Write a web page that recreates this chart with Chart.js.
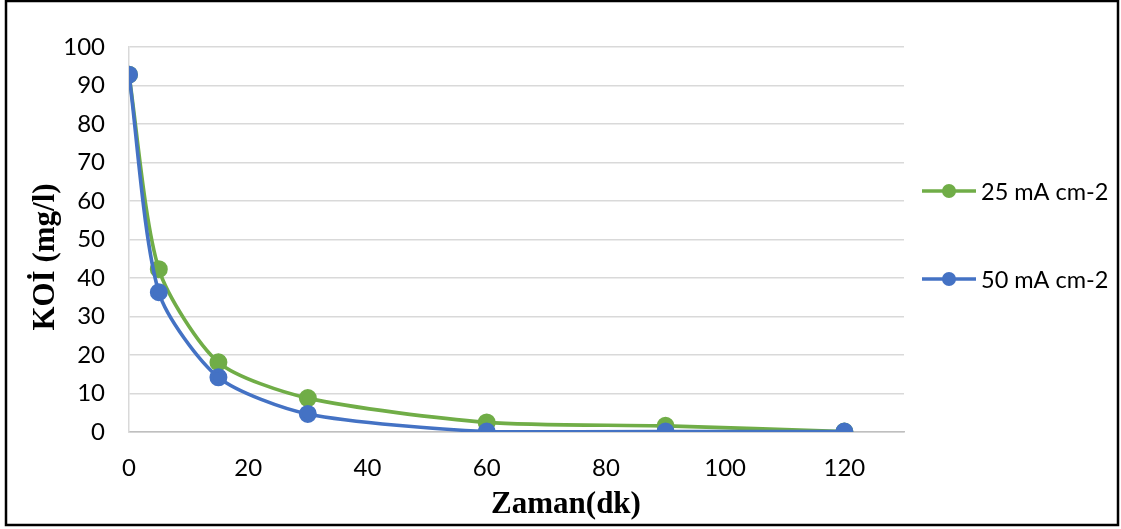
<!DOCTYPE html>
<html>
<head>
<meta charset="utf-8">
<script src="https://cdn.jsdelivr.net/npm/chart.js@4"></script>
<style>
  html, body { margin: 0; padding: 0; background: #fff; }
  #wrap { width: 1121px; height: 529px; }
</style>
</head>
<body>
<div id="wrap"><canvas id="myChart" width="1121" height="529"></canvas></div>
<script>
// zaman (dk) ve KOİ degerleri
var zaman = [0, 5, 15, 30, 60, 90, 120];
var koi25 = [92.8, 42.3, 18.1, 8.8, 2.5, 1.6, 0.1];
var koi50 = [92.8, 36.3, 14.2, 4.7, 0.1, 0.1, 0.1];
var seriesNames = ['25 mA cm-2', '50 mA cm-2'];
var xTicks = [0, 20, 40, 60, 80, 100, 120];
var xTitle = 'Zaman(dk)';
var yTitle = 'KOİ (mg/l)';

function toPoints(xs, ys) {
  var out = [];
  for (var i = 0; i < xs.length; i++) out.push({ x: xs[i], y: ys[i] });
  return out;
}

// cerceve, eksen basliklari ve sagdaki legend
var framePlugin = {
  id: 'frame',
  afterDraw: function (chart) {
    var c = chart.ctx;
    c.save();
    c.strokeStyle = '#000';
    c.lineWidth = 2.5;
    c.strokeRect(6, 1, 1112, 524);

    c.fillStyle = '#000';
    c.font = 'bold 31px "Liberation Serif"';
    c.textAlign = 'center';
    c.textBaseline = 'middle';
    c.fillText(xTitle, 566, 505);
    c.save();
    c.translate(46, 257);
    c.rotate(-Math.PI / 2);
    c.fillText(yTitle, 0, 0);
    c.restore();

    var ys = [191, 279];
    c.textAlign = 'left';
    chart.data.datasets.forEach(function (ds, i) {
      var y = ys[i];
      c.strokeStyle = ds.borderColor;
      c.lineWidth = 3.5;
      c.beginPath();
      c.moveTo(922, y);
      c.lineTo(976, y);
      c.stroke();
      c.fillStyle = ds.backgroundColor;
      c.beginPath();
      c.arc(949, y, 7, 0, Math.PI * 2);
      c.fill();
      c.fillStyle = '#000';
      c.font = '23.5px Lato';
      c.fillText(ds.label, 981, y + 1);
    });
    c.restore();
  }
};

var ctx = document.getElementById('myChart').getContext('2d');
var myChart = new Chart(ctx, {
  type: 'line',
  data: {
    datasets: [{
      label: seriesNames[0],
      data: toPoints(zaman, koi25),
      borderColor: '#70ad47',
      backgroundColor: '#70ad47',
      borderWidth: 3.6,
      pointRadius: 7.2,
      pointHoverRadius: 7.2,
      tension: 0.25,
      order: 1,
      fill: false
    }, {
      label: seriesNames[1],
      data: toPoints(zaman, koi50),
      borderColor: '#4472c4',
      backgroundColor: '#4472c4',
      borderWidth: 3.6,
      pointRadius: 7.2,
      pointHoverRadius: 7.2,
      tension: 0.25,
      order: 0,
      fill: false
    }]
  },
  options: {
    responsive: false,
    animation: false,
    events: [],
    layout: { padding: { left: 0, top: 47, right: 1121 - 904, bottom: 0 } },
    plugins: { legend: { display: false }, tooltip: { enabled: false } },
    scales: {
      x: {
        type: 'linear',
        min: 0,
        max: 130,
        afterBuildTicks: function (scale) {
          scale.ticks = xTicks.map(function (v) { return { value: v }; });
        },
        afterFit: function (scale) { scale.height = 529 - 432; },
        grid: { display: false, drawTicks: false },
        border: { display: true, color: '#bfbfbf', width: 1.5 },
        ticks: { color: '#000', padding: 22, maxRotation: 0, font: { family: 'Lato', size: 24 } },
        title: { display: false }
      },
      y: {
        min: 0,
        max: 100,
        ticks: { stepSize: 10, color: '#000', padding: 24, font: { family: 'Lato', size: 24 } },
        afterFit: function (scale) { scale.width = 129; },
        grid: { color: '#d9d9d9', lineWidth: 1.5, drawTicks: false },
        border: { display: true, color: '#d9d9d9', width: 1.5 },
        title: { display: false }
      }
    }
  },
  plugins: [framePlugin]
});
</script>
</body>
</html>
